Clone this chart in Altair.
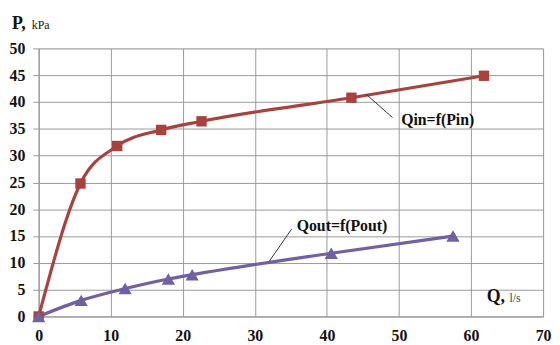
import altair as alt
import pandas as pd

qin = [0, 5.8, 10.9, 17.0, 22.6, 43.4, 61.8]
pin = [0, 24.8, 31.8, 34.8, 36.4, 40.8, 44.9]
qout = [0, 5.9, 12.0, 18.0, 21.3, 40.6, 57.5]
pout = [0, 3.0, 5.2, 7.0, 7.8, 11.8, 15.0]

labels = ["Qin=f(Pin)", "Qout=f(Pout)"]
label_x = [50.3, 35.8]
label_y = [36.7, 16.9]
leader_x1 = [45.4, 32.0]
leader_y1 = [41.5, 10.3]
leader_x2 = [49.1, 35.1]
leader_y2 = [37.1, 16.3]

x_ticks = [0, 10, 20, 30, 40, 50, 60, 70]
y_ticks = [0, 5, 10, 15, 20, 25, 30, 35, 40, 45, 50]

RED = "#A8423E"
PURPLE = "#7160A2"
FONT = "Liberation Serif"

df_in = pd.DataFrame({"Q": qin, "P": pin})
df_out = pd.DataFrame({"Q": qout, "P": pout})
df_lab = pd.DataFrame({"label": labels, "Q": label_x, "P": label_y})
df_lead = pd.DataFrame({"Q": leader_x1, "P": leader_y1, "Q2": leader_x2, "P2": leader_y2})

xs = alt.Scale(domain=[0, 70], nice=False, zero=False)
ys = alt.Scale(domain=[0, 50], nice=False, zero=False)

xax = alt.Axis(values=x_ticks, title=None, grid=True, gridColor="#9a9a9a", gridWidth=1,
               labelFont=FONT, labelFontWeight="bold", labelFontSize=16, labelColor="#111",
               labelPadding=11, tickSize=0, domainColor="#9a9a9a", labelFlush=False,
               labelOverlap=False)
yax = alt.Axis(values=y_ticks, title=None, grid=True, gridColor="#9a9a9a", gridWidth=1,
               labelFont=FONT, labelFontWeight="bold", labelFontSize=16, labelColor="#111",
               labelPadding=8, tickSize=6, tickColor="#9a9a9a", domainColor="#9a9a9a",
               labelOverlap=False)

X = alt.X("Q:Q", scale=xs, axis=xax)
Y = alt.Y("P:Q", scale=ys, axis=yax)

base_in = alt.Chart(df_in).encode(x=X, y=Y)
line_in = base_in.mark_line(color=RED, strokeWidth=3.2, interpolate="monotone")
pts_in = base_in.mark_point(shape="square", filled=True, size=110, color=RED, opacity=1)

base_out = alt.Chart(df_out).encode(x=X, y=Y)
line_out = base_out.mark_line(color=PURPLE, strokeWidth=3.2, interpolate="monotone")
pts_out = base_out.mark_point(shape="triangle-up", filled=True, size=180, color=PURPLE, opacity=1)

leaders = alt.Chart(df_lead).mark_rule(color="#333", strokeWidth=1).encode(
    x=X, y=Y, x2="Q2:Q", y2="P2:Q",
)
lab_text = alt.Chart(df_lab).mark_text(
    font=FONT, fontSize=16, fontWeight="bold", align="left", baseline="middle", color="#111"
).encode(x=X, y=Y, text="label:N")

t1 = alt.Chart(pd.DataFrame({"t": ["P,"]})).mark_text(
    font=FONT, fontSize=18, fontWeight="bold", align="left", baseline="alphabetic", color="#111"
).encode(x=alt.value(-27), y=alt.value(-20), text="t:N")
t2 = alt.Chart(pd.DataFrame({"t": ["kPa"]})).mark_text(
    font=FONT, fontSize=12, align="left", baseline="alphabetic", color="#111"
).encode(x=alt.value(-7), y=alt.value(-20), text="t:N")
t3 = alt.Chart(pd.DataFrame({"t": ["Q,"]})).mark_text(
    font=FONT, fontSize=18, fontWeight="bold", align="left", baseline="alphabetic", color="#111"
).encode(x=alt.value(453), y=alt.value(256), text="t:N")
t4 = alt.Chart(pd.DataFrame({"t": ["l/s"]})).mark_text(
    font=FONT, fontSize=12, align="left", baseline="alphabetic", color="#444"
).encode(x=alt.value(476), y=alt.value(256), text="t:N")

chart = alt.layer(
    line_in, line_out, leaders, pts_in, pts_out, lab_text, t1, t2, t3, t4
).properties(
    width=510, height=271,
    autosize=alt.AutoSizeParams(type="none"),
    padding={"left": 31, "top": 39, "right": 9, "bottom": 27},
).configure_view(stroke="#9a9a9a", strokeWidth=1).configure(background="white")

chart.save("out.html", embed_options={"renderer": "svg", "actions": False})
